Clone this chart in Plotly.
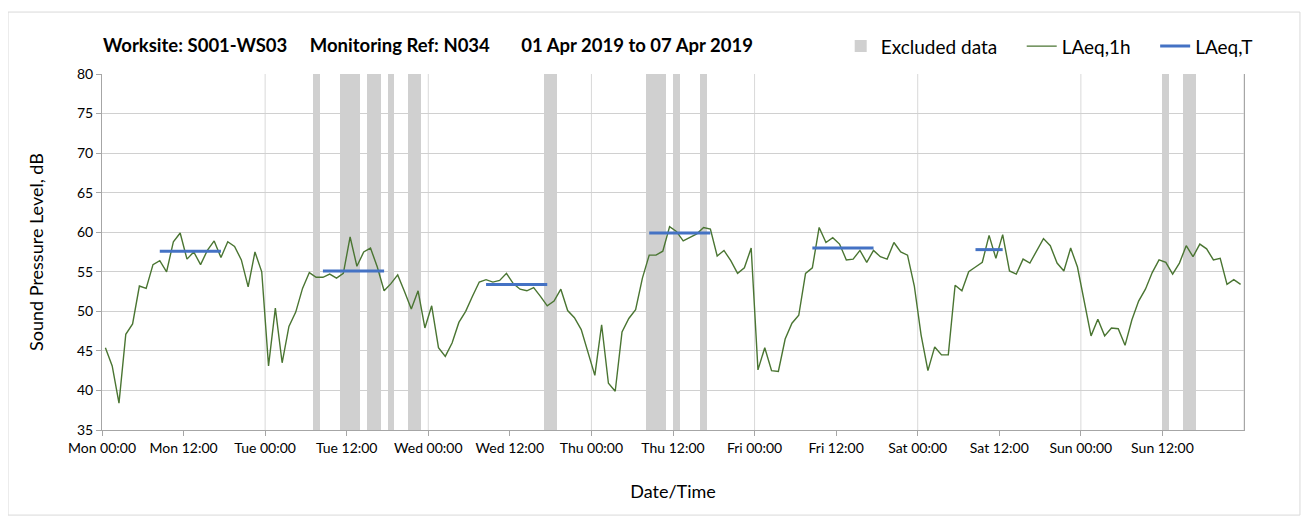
import pandas as pd
import plotly.graph_objects as go

# ---------------- data ----------------
start_date = "2019-04-01"
# hourly LAeq,1h values (Mon 00:00 .. Sun 23:00)
laeq_1h = [
    # Mon
    45.4, 43.1, 38.4, 47.1, 48.4, 53.2, 52.9, 55.9, 56.4, 55.0, 58.8, 59.9,
    56.6, 57.5, 55.9, 57.7, 58.9, 56.8, 58.8, 58.2, 56.5, 53.1, 57.5, 55.0,
    # Tue
    43.1, 50.4, 43.5, 48.1, 49.9, 52.9, 54.9, 54.3, 54.3, 54.7, 54.2, 54.8,
    59.4, 55.7, 57.5, 58.0, 55.6, 52.6, 53.5, 54.6, 52.5, 50.3, 52.6, 47.9,
    # Wed
    50.7, 45.4, 44.3, 46.0, 48.6, 50.0, 51.9, 53.7, 54.0, 53.7, 53.9, 54.8,
    53.5, 52.8, 52.6, 53.0, 51.9, 50.7, 51.3, 52.8, 50.1, 49.2, 47.7, 44.9,
    # Thu
    41.9, 48.3, 40.9, 39.9, 47.4, 49.1, 50.2, 54.2, 57.1, 57.1, 57.6, 60.7,
    60.1, 58.9, 59.3, 59.8, 60.6, 60.4, 57.0, 57.7, 56.4, 54.8, 55.5, 58.0,
    # Fri
    42.6, 45.4, 42.5, 42.4, 46.5, 48.5, 49.5, 54.8, 55.5, 60.6, 58.7, 59.3,
    58.5, 56.5, 56.6, 57.7, 56.2, 57.7, 56.9, 56.6, 58.7, 57.5, 57.1, 53.2,
    # Sat
    47.0, 42.5, 45.5, 44.5, 44.5, 53.3, 52.6, 55.0, 55.6, 56.2, 59.6, 56.7,
    59.7, 55.1, 54.7, 56.6, 56.1, 57.7, 59.2, 58.3, 56.1, 55.1, 58.0, 55.6,
    # Sun
    51.2, 46.9, 49.0, 46.9, 47.9, 47.8, 45.7, 48.9, 51.3, 52.8, 54.9, 56.5,
    56.2, 54.7, 56.1, 58.3, 56.9, 58.5, 57.9, 56.5, 56.7, 53.4, 54.0, 53.4,
]

# LAeq,T assessment periods
laeqT_start = ["2019-04-01 08:00", "2019-04-02 08:00", "2019-04-03 08:00",
               "2019-04-04 08:00", "2019-04-05 08:00", "2019-04-06 08:00"]
laeqT_end = ["2019-04-01 18:00", "2019-04-02 18:00", "2019-04-03 18:00",
             "2019-04-04 18:00", "2019-04-05 18:00", "2019-04-06 13:00"]
laeqT_value = [57.6, 55.1, 53.4, 59.9, 58.0, 57.8]

# Excluded data periods
excl_start = ["2019-04-02 07:00", "2019-04-02 11:00", "2019-04-02 15:00",
              "2019-04-02 18:00", "2019-04-02 21:00", "2019-04-03 17:00",
              "2019-04-04 08:00", "2019-04-04 12:00", "2019-04-04 16:00",
              "2019-04-07 12:00", "2019-04-07 15:00"]
excl_end = ["2019-04-02 08:00", "2019-04-02 14:00", "2019-04-02 17:00",
            "2019-04-02 19:00", "2019-04-02 23:00", "2019-04-03 19:00",
            "2019-04-04 11:00", "2019-04-04 13:00", "2019-04-04 17:00",
            "2019-04-07 13:00", "2019-04-07 17:00"]

y_min, y_max = 35, 80
SP = "&nbsp;"
title_parts = ["Worksite: S001-WS03", "Monitoring Ref: N034", "01 Apr 2019 to 07 Apr 2019"]

# ---------------- derived ----------------
base = pd.Timestamp(start_date)
half = pd.Timedelta(minutes=30)
hour_x = [base + pd.Timedelta(hours=i) + half for i in range(len(laeq_1h))]

ex_s = pd.to_datetime(excl_start)
ex_e = pd.to_datetime(excl_end)
ex_mid = [s + (e - s) / 2 for s, e in zip(ex_s, ex_e)]
ex_w = [(e - s).total_seconds() * 1000 for s, e in zip(ex_s, ex_e)]

tx, ty = [], []
for s, e, v in zip(pd.to_datetime(laeqT_start), pd.to_datetime(laeqT_end), laeqT_value):
    tx += [s + half, e - half, None]
    ty += [v, v, None]

tick_vals = list(pd.date_range(base, periods=14, freq="12h"))
title_text = title_parts[0] + SP * 5 + title_parts[1] + SP * 7 + title_parts[2]

FONT = "Lato, 'Open Sans', sans-serif"
GREEN = "#4A7532"
BLUE = "#4472C4"
BAND = "#D0D0D0"

fig = go.Figure()
fig.add_trace(go.Bar(
    x=ex_mid, y=[y_max - y_min] * len(ex_mid), base=[y_min] * len(ex_mid),
    width=ex_w, marker=dict(color=BAND, line=dict(width=0)),
    name="Excluded data" + SP * 4, hoverinfo="skip"))
fig.add_trace(go.Scatter(
    x=hour_x, y=laeq_1h, mode="lines", name="LAeq,1h" + SP * 4,
    line=dict(color=GREEN, width=1.4)))
fig.add_trace(go.Scatter(
    x=tx, y=ty, mode="lines", name="LAeq,T",
    line=dict(color=BLUE, width=3)))

# daily vertical gridlines
for d in pd.date_range(base, periods=8, freq="D")[1:]:
    fig.add_shape(type="line", xref="x", yref="paper", x0=d, x1=d, y0=0, y1=1,
                  line=dict(color="#D9D9D9", width=1), layer="below")

# outer chart border
fig.add_shape(type="rect", xref="paper", yref="paper",
              x0=-0.0823, x1=1.049, y0=-0.239, y1=1.174,
              line=dict(color="#D9D9D9", width=1), layer="below")

fig.add_annotation(text=f"<b>{title_text}</b>", xref="paper", yref="paper",
                   x=-0.001, y=1.081, xanchor="left", yanchor="middle",
                   showarrow=False, font=dict(family=FONT, size=18.5, color="#000"))

fig.update_layout(
    width=1309, height=525,
    margin=dict(l=94, r=73, t=66, b=103, autoexpand=False),
    paper_bgcolor="white", plot_bgcolor="white",
    font=dict(family=FONT, size=14, color="#000"),
    bargap=0,
    showlegend=True,
    legend=dict(orientation="h", x=1.012, xanchor="right", y=1.078, yanchor="middle",
                font=dict(size=19, family=FONT), bgcolor="rgba(0,0,0,0)",
                itemwidth=30, traceorder="normal"),
)
fig.update_xaxes(
    type="date", automargin=False,
    range=[base, base + pd.Timedelta(days=7)],
    tickvals=tick_vals, tickformat="%a %H:%M",
    ticks="outside", ticklen=5, tickcolor="#A6A6A6",
    showgrid=False, showline=True, linecolor="#A6A6A6", linewidth=1,
    title=dict(text="Date/Time", font=dict(size=18, family=FONT), standoff=30),
    tickfont=dict(size=14), zeroline=False,
)
fig.update_yaxes(
    range=[y_min, y_max], dtick=5, tick0=y_min, automargin=False,
    ticks="outside", ticklen=5, tickcolor="#A6A6A6",
    showgrid=True, gridcolor="#D0D0D0", gridwidth=1,
    showline=True, linecolor="#A6A6A6", linewidth=1, mirror=True,
    title=dict(text="Sound Pressure Level, dB", font=dict(size=18, family=FONT), standoff=28),
    tickfont=dict(size=14), zeroline=False,
)

fig.write_html("out.html")
